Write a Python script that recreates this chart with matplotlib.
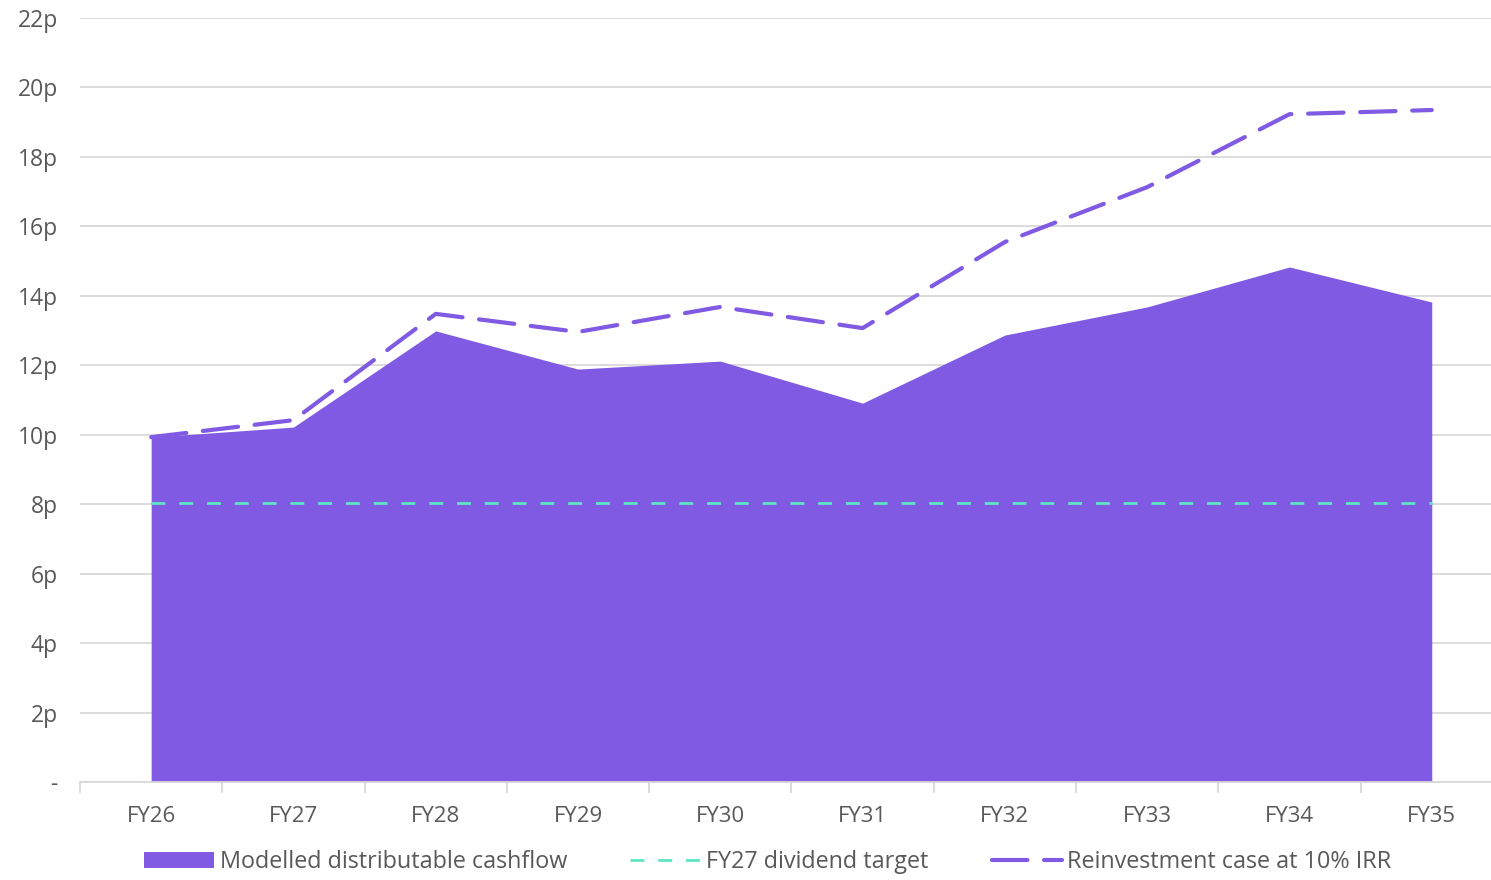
import matplotlib
matplotlib.use("Agg")
import matplotlib.pyplot as plt
import numpy as np

# data (pence per share)
years = ["FY26", "FY27", "FY28", "FY29", "FY30", "FY31", "FY32", "FY33", "FY34", "FY35"]
cashflow = [9.93, 10.22, 12.99, 11.89, 12.12, 10.91, 12.87, 13.68, 14.83, 13.82]
reinvest = [9.93, 10.42, 13.48, 12.96, 13.68, 13.07, 15.55, 17.13, 19.23, 19.35]
div_target = [8.03] * len(years)
y_ticks = [0, 2, 4, 6, 8, 10, 12, 14, 16, 18, 20, 22]
y_labels = ["-"] + ["%dp" % v for v in y_ticks[1:]]

PURPLE = "#805AE3"
TEAL = "#5CE6C4"
GREY = "#595959"
GRID = "#D9D9D9"

plt.rcParams["font.family"] = ["Open Sans", "DejaVu Sans"]

fig = plt.figure(figsize=(14.91, 8.8), dpi=100)
ax = fig.add_axes([80 / 1491, 1 - 782 / 880, 1 - 80 / 1491, (782 - 18) / 880])

x = np.arange(len(years))
ax.fill_between(x, 0, cashflow, color=PURPLE, lw=0, label="Modelled distributable cashflow", zorder=2)
ax.plot(x, div_target, color=TEAL, lw=2.0, dashes=(5, 5), label="FY27 dividend target", zorder=3)
ax.plot(x, reinvest, color=PURPLE, lw=3.0, dashes=(8.5, 4), dash_capstyle="round",
        label="Reinvestment case at 10% IRR", zorder=3)

ax.set_ylim(0, 22)
ax.set_xlim(-0.5, (1491 - 152) / 142.2)
ax.set_yticks(y_ticks)
ax.set_yticklabels(y_labels)
ax.yaxis.grid(True, color=GRID, lw=1.3, zorder=0)
ax.set_axisbelow(True)

# category labels in the middle, tick marks between categories
ax.set_xticks(x)
ax.set_xticklabels(years)
ax.set_xticks(np.arange(-0.5, 9.5, 1), minor=True)
ax.tick_params(axis="x", which="major", length=0, pad=17, labelsize=16, labelcolor=GREY)
ax.tick_params(axis="x", which="minor", length=8, width=1.3, color=GRID)
ax.tick_params(axis="y", length=0, pad=16, labelsize=16.5, labelcolor=GREY)

for s in ["top", "right", "left"]:
    ax.spines[s].set_visible(False)
ax.spines["bottom"].set_color(GRID)
ax.spines["bottom"].set_linewidth(1.3)

leg = fig.legend(loc="center", bbox_to_anchor=(0.515, 0.02), ncol=3, frameon=False,
                 fontsize=16.8, handlelength=3.0, handletextpad=0.25, columnspacing=2.7,
                 borderpad=0.2)
for t in leg.get_texts():
    t.set_color(GREY)

fig.savefig("out.png", dpi=100)
